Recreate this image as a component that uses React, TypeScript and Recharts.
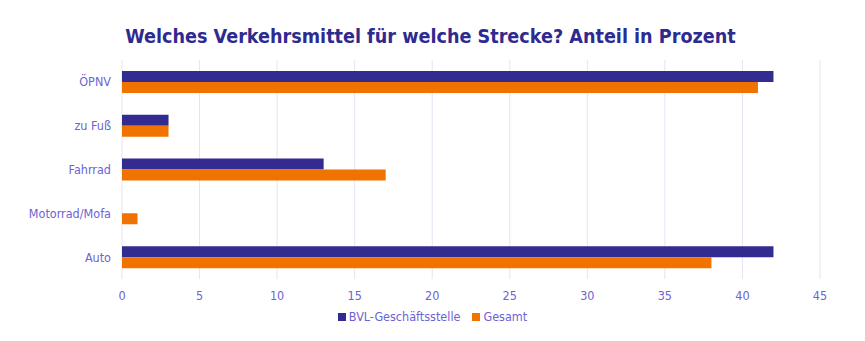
import { BarChart, Bar, XAxis, YAxis, CartesianGrid, Legend } from 'recharts'

const CATEGORIES = ['ÖPNV', 'zu Fuß', 'Fahrrad', 'Motorrad/Mofa', 'Auto']
const BVL = [42, 3, 13, 0, 42]
const GESAMT = [41, 3, 17, 1, 38]
const X_TICKS = [0, 5, 10, 15, 20, 25, 30, 35, 40, 45]

const SERIES = [
  { key: 'bvl', name: 'BVL-Geschäftsstelle', color: '#332b8f' },
  { key: 'gesamt', name: 'Gesamt', color: '#f07300' },
]

const data = CATEGORIES.map((c, i) => ({ cat: c, bvl: BVL[i], gesamt: GESAMT[i] }))

const FONT = '"DejaVu Sans Condensed", "DejaVu Sans", sans-serif'
const TICK_COLOR = '#6c63d4'

function LegendContent() {
  return (
    <div style={{ display: 'flex', justifyContent: 'center', gap: 12, fontFamily: FONT, fontSize: 12.5, color: TICK_COLOR }}>
      {SERIES.map((s) => (
        <span key={s.key} style={{ display: 'flex', alignItems: 'center', gap: 3 }}>
          <span style={{ width: 8, height: 8, background: s.color, display: 'inline-block' }} />
          {s.name}
        </span>
      ))}
    </div>
  )
}

export default function App() {
  return (
    <div style={{ position: 'relative', width: 849, height: 333, background: '#fff' }}>
      <div
        style={{
          position: 'absolute', top: 17, left: 0, width: 845, textAlign: 'center',
          fontFamily: FONT, fontWeight: 'bold', fontSize: 19.6, color: '#2e2a8f',
        }}
      >
        Welches Verkehrsmittel für welche Strecke? Anteil in Prozent
      </div>
      <BarChart
        width={849}
        height={333}
        data={data}
        layout="vertical"
        margin={{ top: 52, right: 37, bottom: 32, left: 0 }}
        barCategoryGap="25%"
        barGap={0}
      >
        <CartesianGrid horizontal={false} stroke="#e6e4f4" />
        <XAxis
          type="number"
          domain={[0, 45]}
          ticks={X_TICKS}
          tickLine={false}
          axisLine={false}
          tickMargin={6}
          height={30}
          tick={{ fill: TICK_COLOR, fontSize: 12.5, fontFamily: FONT }}
        />
        <YAxis
          type="category"
          dataKey="cat"
          width={114}
          tickLine={false}
          axisLine={false}
          tickMargin={5}
          tick={{ fill: TICK_COLOR, fontSize: 12.5, fontFamily: FONT }}
        />
        <Legend
          layout="horizontal"
          verticalAlign="middle"
          align="center"
          content={<LegendContent />}
          wrapperStyle={{ top: 301, left: 0, width: 849 }}
        />
        {SERIES.map((s) => (
          <Bar key={s.key} dataKey={s.key} name={s.name} fill={s.color} isAnimationActive={false} />
        ))}
      </BarChart>
    </div>
  )
}
